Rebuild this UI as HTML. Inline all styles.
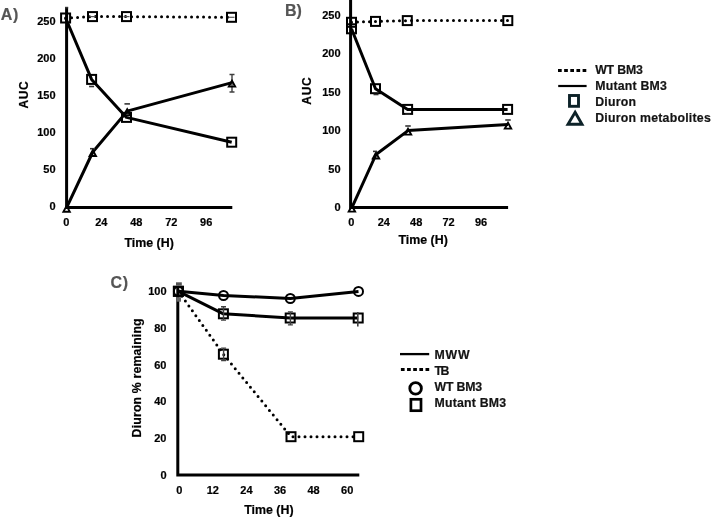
<!DOCTYPE html>
<html><head><meta charset="utf-8"><style>
html,body{margin:0;padding:0;background:#fff;}
body{width:712px;height:517px;overflow:hidden;}
svg{display:block;font-family:"Liberation Sans", sans-serif;will-change:transform;}
</style></head><body>
<svg width="712" height="517" viewBox="0 0 712 517">
<text x="0.8" y="19.8" font-size="16" text-anchor="start" fill="#555555" stroke="#555555" stroke-width="0.2" font-weight="bold" textLength="17.6" lengthAdjust="spacing">A)</text>
<text x="55.6" y="24.7" font-size="11" text-anchor="end" fill="#000" stroke="#000" stroke-width="0.2" font-weight="bold" >250</text>
<text x="55.6" y="61.85" font-size="11" text-anchor="end" fill="#000" stroke="#000" stroke-width="0.2" font-weight="bold" >200</text>
<text x="55.6" y="99.0" font-size="11" text-anchor="end" fill="#000" stroke="#000" stroke-width="0.2" font-weight="bold" >150</text>
<text x="55.6" y="136.15" font-size="11" text-anchor="end" fill="#000" stroke="#000" stroke-width="0.2" font-weight="bold" >100</text>
<text x="55.6" y="173.3" font-size="11" text-anchor="end" fill="#000" stroke="#000" stroke-width="0.2" font-weight="bold" >50</text>
<text x="55.6" y="210.45" font-size="11" text-anchor="end" fill="#000" stroke="#000" stroke-width="0.2" font-weight="bold" >0</text>
<text x="66.4" y="225.6" font-size="11" text-anchor="middle" fill="#000" stroke="#000" stroke-width="0.2" font-weight="bold" >0</text>
<text x="101.35" y="225.6" font-size="11" text-anchor="middle" fill="#000" stroke="#000" stroke-width="0.2" font-weight="bold" >24</text>
<text x="136.3" y="225.6" font-size="11" text-anchor="middle" fill="#000" stroke="#000" stroke-width="0.2" font-weight="bold" >48</text>
<text x="171.25" y="225.6" font-size="11" text-anchor="middle" fill="#000" stroke="#000" stroke-width="0.2" font-weight="bold" >72</text>
<text x="206.2" y="225.6" font-size="11" text-anchor="middle" fill="#000" stroke="#000" stroke-width="0.2" font-weight="bold" >96</text>
<text x="149.15" y="246.7" font-size="12.2" text-anchor="middle" fill="#000" stroke="#000" stroke-width="0.2" font-weight="bold" textLength="49.4" lengthAdjust="spacingAndGlyphs">Time (H)</text>
<text x="0" y="0" font-size="12" font-weight="bold" stroke="#000" stroke-width="0.2" text-anchor="middle" textLength="27.4" lengthAdjust="spacing" transform="translate(27.6,94.9) rotate(-90)">AUC</text>
<path d="M66.6,7.4 L66.6,207.4 L232.3,207.4" fill="none" stroke="#000" stroke-width="3"/>
<path d="M65.6,18 L92.5,16.6 L126.5,16.6 L231.5,17.3" fill="none" stroke="#000" stroke-width="3" stroke-linecap="round" stroke-dasharray="0 6"/>
<path d="M65.6,18 L91.6,79.4 L126.5,117.4 L231.7,142.2" fill="none" stroke="#000" stroke-width="3" stroke-linejoin="round"/>
<path d="M66.6,207.7 L92.8,152 L127.2,111.1 L232,82.6" fill="none" stroke="#000" stroke-width="3" stroke-linejoin="round"/>
<path d="M89.1,86.5 L94.1,86.5" stroke="#333" stroke-width="1.6" fill="none"/>
<path d="M124.45,103.9 L129.95,103.9" stroke="#333" stroke-width="1.6" fill="none"/>
<path d="M232,74.5 L232,92 M229.5,74.5 L234.5,74.5 M229.5,92 L234.5,92" stroke="#404040" stroke-width="1.4" fill="none"/>
<path d="M90.0,148.7 L95.0,148.7" stroke="#333" stroke-width="1.6" fill="none"/>
<path d="M65.0,7.6 L68.19999999999999,7.6" stroke="#333" stroke-width="1.6" fill="none"/>
<path d="M89.5,16.6 L95.5,16.6" stroke="#555" stroke-width="1.2"/>
<path d="M123.5,16.6 L129.5,16.6" stroke="#555" stroke-width="1.2"/>
<path d="M228.5,17.3 L234.5,17.3" stroke="#555" stroke-width="1.2"/>
<rect x="61.099999999999994" y="13.5" width="9" height="9" fill="none" stroke="#000" stroke-width="2"/>
<rect x="88.0" y="12.100000000000001" width="9" height="9" fill="none" stroke="#000" stroke-width="2"/>
<rect x="122.0" y="12.100000000000001" width="9" height="9" fill="none" stroke="#000" stroke-width="2"/>
<rect x="227.0" y="12.8" width="9" height="9" fill="none" stroke="#000" stroke-width="2"/>
<rect x="87.1" y="74.9" width="9" height="9" fill="none" stroke="#000" stroke-width="2"/>
<rect x="122.0" y="112.9" width="9" height="9" fill="none" stroke="#000" stroke-width="2"/>
<rect x="227.2" y="137.7" width="9" height="9" fill="none" stroke="#000" stroke-width="2"/>
<path d="M66.6,203.89999999999998 L71.39999999999999,212.7 L61.8,212.7 Z M65.001,210.8 L68.199,210.8 L66.6,207.868 Z" fill="#000" fill-rule="evenodd"/>
<path d="M92.8,148.2 L97.6,157.0 L88.0,157.0 Z M91.201,155.1 L94.399,155.1 L92.8,152.168 Z" fill="#000" fill-rule="evenodd"/>
<path d="M127.2,107.3 L132.0,116.1 L122.4,116.1 Z M125.601,114.2 L128.799,114.2 L127.2,111.268 Z" fill="#000" fill-rule="evenodd"/>
<path d="M232,78.8 L236.8,87.6 L227.2,87.6 Z M230.401,85.7 L233.599,85.7 L232.0,82.768 Z" fill="#000" fill-rule="evenodd"/>
<text x="285" y="15.7" font-size="16" text-anchor="start" fill="#555555" stroke="#555555" stroke-width="0.2" font-weight="bold" >B)</text>
<text x="340.6" y="19.0" font-size="11" text-anchor="end" fill="#000" stroke="#000" stroke-width="0.2" font-weight="bold" >250</text>
<text x="340.6" y="57.4" font-size="11" text-anchor="end" fill="#000" stroke="#000" stroke-width="0.2" font-weight="bold" >200</text>
<text x="340.6" y="95.8" font-size="11" text-anchor="end" fill="#000" stroke="#000" stroke-width="0.2" font-weight="bold" >150</text>
<text x="340.6" y="134.2" font-size="11" text-anchor="end" fill="#000" stroke="#000" stroke-width="0.2" font-weight="bold" >100</text>
<text x="340.6" y="172.6" font-size="11" text-anchor="end" fill="#000" stroke="#000" stroke-width="0.2" font-weight="bold" >50</text>
<text x="340.6" y="211.0" font-size="11" text-anchor="end" fill="#000" stroke="#000" stroke-width="0.2" font-weight="bold" >0</text>
<text x="351.4" y="225.5" font-size="11" text-anchor="middle" fill="#000" stroke="#000" stroke-width="0.2" font-weight="bold" >0</text>
<text x="383.8" y="225.5" font-size="11" text-anchor="middle" fill="#000" stroke="#000" stroke-width="0.2" font-weight="bold" >24</text>
<text x="416.2" y="225.5" font-size="11" text-anchor="middle" fill="#000" stroke="#000" stroke-width="0.2" font-weight="bold" >48</text>
<text x="448.6" y="225.5" font-size="11" text-anchor="middle" fill="#000" stroke="#000" stroke-width="0.2" font-weight="bold" >72</text>
<text x="481.0" y="225.5" font-size="11" text-anchor="middle" fill="#000" stroke="#000" stroke-width="0.2" font-weight="bold" >96</text>
<text x="423.15" y="243.6" font-size="12.2" text-anchor="middle" fill="#000" stroke="#000" stroke-width="0.2" font-weight="bold" textLength="49.4" lengthAdjust="spacingAndGlyphs">Time (H)</text>
<text x="0" y="0" font-size="12" font-weight="bold" stroke="#000" stroke-width="0.2" text-anchor="middle" textLength="27.4" lengthAdjust="spacing" transform="translate(311.2,91) rotate(-90)">AUC</text>
<path d="M350.6,0 L350.6,207.4 L508.1,207.4" fill="none" stroke="#000" stroke-width="3"/>
<path d="M351.5,22.3 L375.5,21.4 L407.3,20.6 L507.8,20.6" fill="none" stroke="#000" stroke-width="3" stroke-linecap="round" stroke-dasharray="0 6"/>
<path d="M351.5,28.8 L375.5,88.7 L407.6,109.4 L507.6,109.4" fill="none" stroke="#000" stroke-width="3" stroke-linejoin="round"/>
<path d="M351.9,207.6 L376,154.5 L408,130.6 L508,124.6" fill="none" stroke="#000" stroke-width="3" stroke-linejoin="round"/>
<rect x="347.0" y="17.8" width="9" height="9" fill="none" stroke="#000" stroke-width="2"/>
<rect x="371.0" y="16.9" width="9" height="9" fill="none" stroke="#000" stroke-width="2"/>
<rect x="402.8" y="16.1" width="9" height="9" fill="none" stroke="#000" stroke-width="2"/>
<rect x="503.3" y="16.1" width="9" height="9" fill="none" stroke="#000" stroke-width="2"/>
<rect x="347.0" y="24.3" width="9" height="9" fill="none" stroke="#000" stroke-width="2"/>
<rect x="371.0" y="84.2" width="9" height="9" fill="none" stroke="#000" stroke-width="2"/>
<rect x="403.1" y="104.9" width="9" height="9" fill="none" stroke="#000" stroke-width="2"/>
<rect x="503.1" y="104.9" width="9" height="9" fill="none" stroke="#000" stroke-width="2"/>
<path d="M351.9,203.79999999999998 L356.7,212.6 L347.09999999999997,212.6 Z M350.301,210.7 L353.499,210.7 L351.9,207.768 Z" fill="#000" fill-rule="evenodd"/>
<path d="M376,150.7 L380.8,159.5 L371.2,159.5 Z M374.401,157.6 L377.599,157.6 L376.0,154.668 Z" fill="#000" fill-rule="evenodd"/>
<path d="M408,126.8 L412.8,135.6 L403.2,135.6 Z M406.401,133.7 L409.599,133.7 L408.0,130.768 Z" fill="#000" fill-rule="evenodd"/>
<path d="M508,120.8 L512.8,129.6 L503.2,129.6 Z M506.401,127.7 L509.599,127.7 L508.0,124.768 Z" fill="#000" fill-rule="evenodd"/>
<path d="M373.5,94.5 L378.5,94.5" stroke="#333" stroke-width="1.6" fill="none"/>
<path d="M405.2,114.2 L410.2,114.2" stroke="#333" stroke-width="1.6" fill="none"/>
<path d="M405.25,126 L410.75,126" stroke="#333" stroke-width="1.6" fill="none"/>
<path d="M505.25,120 L510.75,120" stroke="#333" stroke-width="1.6" fill="none"/>
<path d="M373.0,151.4 L377.0,151.4" stroke="#333" stroke-width="1.6" fill="none"/>
<text x="110.6" y="287.6" font-size="16" text-anchor="start" fill="#555555" stroke="#555555" stroke-width="0.2" font-weight="bold" textLength="17.4" lengthAdjust="spacing">C)</text>
<text x="166.5" y="295.0" font-size="11" text-anchor="end" fill="#000" stroke="#000" stroke-width="0.2" font-weight="bold" >100</text>
<text x="166.5" y="331.8" font-size="11" text-anchor="end" fill="#000" stroke="#000" stroke-width="0.2" font-weight="bold" >80</text>
<text x="166.5" y="368.6" font-size="11" text-anchor="end" fill="#000" stroke="#000" stroke-width="0.2" font-weight="bold" >60</text>
<text x="166.5" y="405.4" font-size="11" text-anchor="end" fill="#000" stroke="#000" stroke-width="0.2" font-weight="bold" >40</text>
<text x="166.5" y="442.2" font-size="11" text-anchor="end" fill="#000" stroke="#000" stroke-width="0.2" font-weight="bold" >20</text>
<text x="166.5" y="479.0" font-size="11" text-anchor="end" fill="#000" stroke="#000" stroke-width="0.2" font-weight="bold" >0</text>
<text x="179.2" y="493.8" font-size="11" text-anchor="middle" fill="#000" stroke="#000" stroke-width="0.2" font-weight="bold" >0</text>
<text x="212.8" y="493.8" font-size="11" text-anchor="middle" fill="#000" stroke="#000" stroke-width="0.2" font-weight="bold" >12</text>
<text x="246.4" y="493.8" font-size="11" text-anchor="middle" fill="#000" stroke="#000" stroke-width="0.2" font-weight="bold" >24</text>
<text x="280.0" y="493.8" font-size="11" text-anchor="middle" fill="#000" stroke="#000" stroke-width="0.2" font-weight="bold" >36</text>
<text x="313.6" y="493.8" font-size="11" text-anchor="middle" fill="#000" stroke="#000" stroke-width="0.2" font-weight="bold" >48</text>
<text x="347.2" y="493.8" font-size="11" text-anchor="middle" fill="#000" stroke="#000" stroke-width="0.2" font-weight="bold" >60</text>
<text x="268.85" y="513.8" font-size="12.2" text-anchor="middle" fill="#000" stroke="#000" stroke-width="0.2" font-weight="bold" textLength="49.4" lengthAdjust="spacingAndGlyphs">Time (H)</text>
<text x="0" y="0" font-size="12.3" font-weight="bold" stroke="#000" stroke-width="0.2" text-anchor="middle" textLength="119" lengthAdjust="spacing" transform="translate(141.3,377.9) rotate(-90)">Diuron % remaining</text>
<path d="M177.8,287 L177.8,475.1 L359.3,475.1" fill="none" stroke="#000" stroke-width="3"/>
<path d="M178.4,291.3 L223.4,354.2 L291,436.7 L358.7,436.7" fill="none" stroke="#000" stroke-width="3" stroke-linecap="round" stroke-dasharray="0 6"/>
<path d="M178.4,291.3 L223.5,295.5 L290.3,298.5 L358.5,291.4" fill="none" stroke="#000" stroke-width="3" stroke-linejoin="round"/>
<path d="M178.4,291.3 L223.4,313.8 L290.2,318 L358.2,318" fill="none" stroke="#000" stroke-width="3" stroke-linejoin="round"/>
<rect x="173.9" y="286.8" width="9" height="9" fill="none" stroke="#000" stroke-width="2"/>
<rect x="218.9" y="349.7" width="9" height="9" fill="none" stroke="#000" stroke-width="2"/>
<rect x="286.5" y="432.2" width="9" height="9" fill="none" stroke="#000" stroke-width="2"/>
<rect x="354.2" y="432.2" width="9" height="9" fill="none" stroke="#000" stroke-width="2"/>
<rect x="173.9" y="286.8" width="9" height="9" fill="none" stroke="#000" stroke-width="2"/>
<rect x="218.9" y="309.3" width="9" height="9" fill="none" stroke="#000" stroke-width="2"/>
<rect x="285.7" y="313.5" width="9" height="9" fill="none" stroke="#000" stroke-width="2"/>
<rect x="353.7" y="313.5" width="9" height="9" fill="none" stroke="#000" stroke-width="2"/>
<circle cx="178.4" cy="291.3" r="4.5" fill="none" stroke="#000" stroke-width="2"/>
<circle cx="223.5" cy="295.5" r="4.5" fill="none" stroke="#000" stroke-width="2"/>
<circle cx="290.3" cy="298.5" r="4.5" fill="none" stroke="#000" stroke-width="2"/>
<circle cx="358.5" cy="291.4" r="4.5" fill="none" stroke="#000" stroke-width="2"/>
<path d="M223.5,306.7 L223.5,320.1 M221.0,306.7 L226.0,306.7 M221.0,320.1 L226.0,320.1" stroke="#404040" stroke-width="1.4" fill="none"/>
<path d="M290.4,311.9 L290.4,324.9 M287.9,311.9 L292.9,311.9 M287.9,324.9 L292.9,324.9" stroke="#404040" stroke-width="1.4" fill="none"/>
<path d="M357.8,312 L357.8,326.5" stroke="#404040" stroke-width="1.6" fill="none"/>
<path d="M223.6,348.1 L223.6,360.5 M221.1,348.1 L226.1,348.1 M221.1,360.5 L226.1,360.5" stroke="#404040" stroke-width="1.4" fill="none"/>
<rect x="176" y="282.3" width="5.8" height="3.4" fill="#555"/>
<rect x="176.5" y="297.2" width="4.5" height="4.5" fill="#666"/>
<path d="M558,70.4 L586.5,70.4" stroke="#000" stroke-width="3" stroke-dasharray="3.7 2.45"/>
<path d="M558.2,86 L586.6,86" stroke="#000" stroke-width="2.2"/>
<rect x="569.5" y="95.5" width="9" height="10.8" fill="none" stroke="#0d2228" stroke-width="2.9"/>
<path d="M575.1,112.3 L582,124.3 L568,124.3 Z" fill="none" stroke="#0d2228" stroke-width="2.9"/>
<text x="595.2" y="73.9" font-size="12.3" text-anchor="start" fill="#141414" stroke="#141414" stroke-width="0.2" font-weight="bold" textLength="47.6" lengthAdjust="spacing">WT BM3</text>
<text x="595.2" y="89.9" font-size="12.3" text-anchor="start" fill="#141414" stroke="#141414" stroke-width="0.2" font-weight="bold" textLength="71.6" lengthAdjust="spacing">Mutant BM3</text>
<text x="595.2" y="105.9" font-size="12.3" text-anchor="start" fill="#141414" stroke="#141414" stroke-width="0.2" font-weight="bold" textLength="40.8" lengthAdjust="spacing">Diuron</text>
<text x="595.2" y="121.9" font-size="12.3" text-anchor="start" fill="#141414" stroke="#141414" stroke-width="0.2" font-weight="bold" textLength="115.6" lengthAdjust="spacing">Diuron metabolites</text>
<path d="M400,354.1 L429.2,354.1" stroke="#000" stroke-width="2.3"/>
<path d="M400.9,369.5 L429.2,369.5" stroke="#000" stroke-width="3" stroke-dasharray="3.7 2.45"/>
<circle cx="415.6" cy="388.4" r="5.8" fill="none" stroke="#000" stroke-width="2.8"/>
<rect x="410.9" y="399.3" width="10.1" height="11.4" fill="none" stroke="#000" stroke-width="2.7"/>
<text x="434.5" y="359" font-size="12.3" text-anchor="start" fill="#141414" stroke="#141414" stroke-width="0.2" font-weight="bold" textLength="35.2" lengthAdjust="spacing">MWW</text>
<text x="434.5" y="375" font-size="12.3" text-anchor="start" fill="#141414" stroke="#141414" stroke-width="0.2" font-weight="bold" letter-spacing="-1.4">TB</text>
<text x="434.5" y="391" font-size="12.3" text-anchor="start" fill="#141414" stroke="#141414" stroke-width="0.2" font-weight="bold" textLength="47.6" lengthAdjust="spacing">WT BM3</text>
<text x="434.5" y="407" font-size="12.3" text-anchor="start" fill="#141414" stroke="#141414" stroke-width="0.2" font-weight="bold" textLength="71.6" lengthAdjust="spacing">Mutant BM3</text>
</svg>
</body></html>
